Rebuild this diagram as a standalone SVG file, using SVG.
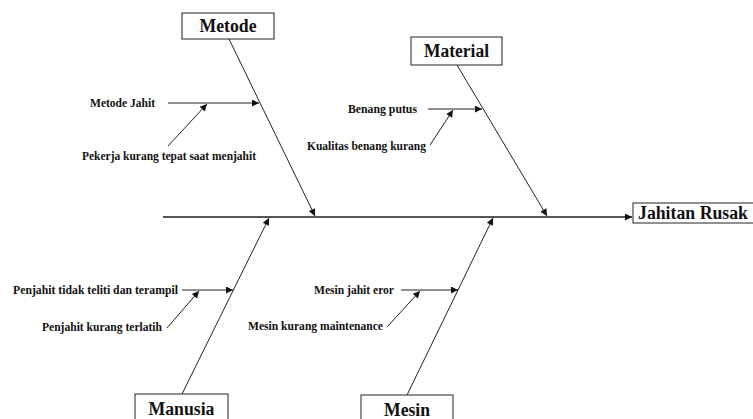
<svg xmlns="http://www.w3.org/2000/svg" width="753" height="419" viewBox="0 0 753 419">
<style>
.box{fill:#fff;stroke:#222;stroke-width:1}
.title{font-family:"Liberation Serif",serif;font-weight:bold;font-size:18px;fill:#111;text-anchor:middle}
.lbl{font-family:"Liberation Serif",serif;font-weight:bold;font-size:11.5px;fill:#111}
.ln{stroke:#222;stroke-width:1;fill:none}
.spine{stroke:#555;stroke-width:2;fill:none}
</style>
<defs>
<marker id="ah" viewBox="0 0 10 10" refX="10" refY="5" markerWidth="9" markerHeight="7" markerUnits="userSpaceOnUse" orient="auto">
<path d="M0,0 L10,5 L0,10 z" fill="#111"/>
</marker>
</defs>
<rect width="753" height="419" fill="#fff"/>
<g id="connectors">
<line class="spine" x1="163" y1="217" x2="632" y2="217" marker-end="url(#ah)"/>
<line class="ln" x1="229" y1="39" x2="315" y2="216" marker-end="url(#ah)"/>
<line class="ln" x1="457" y1="65" x2="547" y2="216" marker-end="url(#ah)"/>
<line class="ln" x1="182" y1="394" x2="269" y2="218" marker-end="url(#ah)"/>
<line class="ln" x1="407" y1="395" x2="493" y2="218" marker-end="url(#ah)"/>
<line class="ln" x1="168" y1="103" x2="259" y2="103" marker-end="url(#ah)"/>
<line class="ln" x1="168" y1="146" x2="207" y2="104" marker-end="url(#ah)"/>
<line class="ln" x1="428" y1="109" x2="482" y2="109" marker-end="url(#ah)"/>
<line class="ln" x1="430" y1="145" x2="453" y2="110" marker-end="url(#ah)"/>
<line class="ln" x1="182" y1="290" x2="233" y2="290" marker-end="url(#ah)"/>
<line class="ln" x1="167" y1="328" x2="199" y2="291" marker-end="url(#ah)"/>
<line class="ln" x1="401" y1="290" x2="458" y2="290" marker-end="url(#ah)"/>
<line class="ln" x1="387" y1="327" x2="420" y2="291" marker-end="url(#ah)"/>
</g>
<g id="metode">
<rect class="box" x="182" y="13" width="92" height="26"/>
<text class="title" x="228" y="32" textLength="57" lengthAdjust="spacingAndGlyphs">Metode</text>
</g>
<g id="material">
<rect class="box" x="411" y="37" width="91" height="28"/>
<text class="title" x="456.5" y="57" textLength="65" lengthAdjust="spacingAndGlyphs">Material</text>
</g>
<g id="manusia">
<rect class="box" x="135" y="394" width="93" height="30"/>
<text class="title" x="181.5" y="415" textLength="66" lengthAdjust="spacingAndGlyphs">Manusia</text>
</g>
<g id="mesin">
<rect class="box" x="361" y="395" width="92" height="30"/>
<text class="title" x="407" y="416" textLength="46" lengthAdjust="spacingAndGlyphs">Mesin</text>
</g>
<g id="jahitan-rusak">
<rect class="box" x="633" y="203" width="125" height="20"/>
<text class="title" x="693" y="219" textLength="110" lengthAdjust="spacingAndGlyphs">Jahitan Rusak</text>
</g>
<g id="metode-jahit"><text class="lbl" x="90" y="107" textLength="65" lengthAdjust="spacingAndGlyphs">Metode Jahit</text></g>
<g id="pekerja"><text class="lbl" x="82" y="160" textLength="174" lengthAdjust="spacingAndGlyphs">Pekerja kurang tepat saat menjahit</text></g>
<g id="benang-putus"><text class="lbl" x="348" y="113" textLength="69" lengthAdjust="spacingAndGlyphs">Benang putus</text></g>
<g id="kualitas"><text class="lbl" x="307" y="150" textLength="119" lengthAdjust="spacingAndGlyphs">Kualitas benang kurang</text></g>
<g id="penjahit-teliti"><text class="lbl" x="13" y="294" textLength="165" lengthAdjust="spacingAndGlyphs">Penjahit tidak teliti dan terampil</text></g>
<g id="penjahit-terlatih"><text class="lbl" x="42" y="331" textLength="120" lengthAdjust="spacingAndGlyphs">Penjahit kurang terlatih</text></g>
<g id="mesin-jahit"><text class="lbl" x="314" y="294" textLength="80" lengthAdjust="spacingAndGlyphs">Mesin jahit eror</text></g>
<g id="mesin-maint"><text class="lbl" x="248" y="330" textLength="135" lengthAdjust="spacingAndGlyphs">Mesin kurang maintenance</text></g>
</svg>
